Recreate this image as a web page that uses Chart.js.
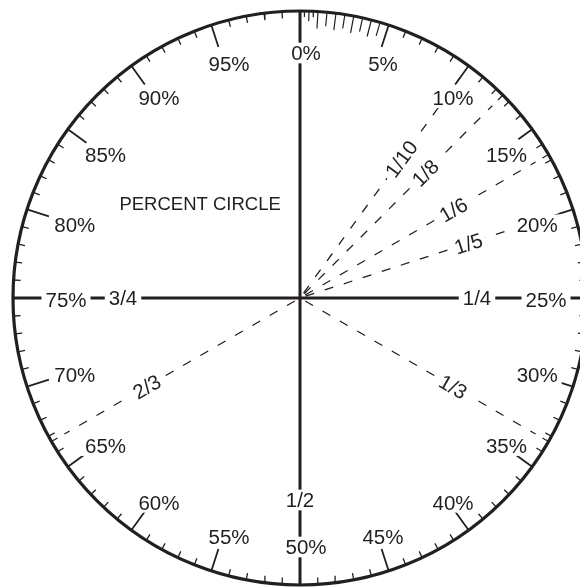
<!DOCTYPE html>
<html>
<head>
<meta charset="utf-8">
<script src="https://cdn.jsdelivr.net/npm/chart.js@4.4.1/dist/chart.umd.min.js"></script>
<style>
  html, body { margin: 0; padding: 0; background: #fff; }
  #wrap { position: relative; width: 580px; height: 587px; }
</style>
</head>
<body>
<div id="wrap"><canvas id="percentCircle"></canvas></div>
<script>
/* --- Data --- */
const title = 'PERCENT CIRCLE';
const percentTicks = [0, 5, 10, 15, 20, 25, 30, 35, 40, 45, 50, 55, 60, 65, 70, 75, 80, 85, 90, 95];
const percentLabels = ['0%', '5%', '10%', '15%', '20%', '25%', '30%', '35%', '40%', '45%',
                       '50%', '55%', '60%', '65%', '70%', '75%', '80%', '85%', '90%', '95%'];
const fractionLabels = ['1/10', '1/8', '1/6', '1/5', '1/4', '1/3', '1/2', '2/3', '3/4'];
const fractionPercents = [10, 12.5, 100 / 6, 20, 25, 100 / 3, 50, 200 / 3, 75];
const dashedFractions = ['1/10', '1/8', '1/6', '1/5', '1/3', '2/3'];
const fineTicks = [0.25, 0.5, 0.75, 1, 1.5, 2, 2.5, 3, 3.5, 4, 4.5];
const minorTickStep = 1;

/* --- Geometry / style --- */
const INK = '#231f20';
const FONT = '"Liberation Sans", Arial, Helvetica, sans-serif';
const W = 580, H = 587;
const CX = 300, CY = 298, R = 287;      // centre and radius of the circle (px)
const MAJOR_LEN = 23;
const majorLenOverride = { 15: 17, 20: 15 };
const MINOR_LEN = 7;
const GAP = { x: null, y: null };

function fineLen(p) {
    if (p < 1) return p === 0.5 ? 10 : 6;
    return Number.isInteger(p) ? 17 : 14;
}

// percent of the full turn -> point in circle units (radius = 1)
function polar(pct, rPx) {
    const a = pct / 100 * 2 * Math.PI;
    return { x: Math.sin(a) * rPx / R, y: Math.cos(a) * rPx / R };
}

function tickSegments(list, lenFor) {
    const pts = [];
    list.forEach(p => pts.push(polar(p, R), polar(p, R - lenFor(p)), GAP));
    return pts;
}

const axisPercents = [0, 25, 50, 75];
const majorOnly = percentTicks.filter(p => !axisPercents.includes(p));
const minorTicks = [];
for (let p = 5; p < 100; p += minorTickStep) if (p % 5 !== 0) minorTicks.push(p);
fractionPercents.forEach(p => { if (!Number.isInteger(p)) minorTicks.push(p); });

function lineDs(label, data, width, extra) {
    return Object.assign({
        label, data,
        borderColor: INK, borderWidth: width,
        pointRadius: 0, pointHoverRadius: 0, tension: 0,
        spanGaps: false, fill: false, borderCapStyle: 'butt'
    }, extra || {});
}

const datasets = [
    lineDs('axes', [polar(0, R), polar(50, R), GAP, polar(25, R), polar(75, R)], 3),
    lineDs('major', tickSegments(majorOnly, p => majorLenOverride[p] || MAJOR_LEN), 1.8),
    lineDs('minor', tickSegments(minorTicks, () => MINOR_LEN), 1.3),
    lineDs('fine', tickSegments(fineTicks, fineLen), 1.2),
    ...dashedFractions.map(f => {
        const p = fractionPercents[fractionLabels.indexOf(f)];
        return lineDs(f, [polar(p, 6), polar(p, 272)], 1.3, { borderDash: [9, 11] });
    })
];

/* --- Texts (labels with a white knock-out behind them) --- */
function drawLabel(ctx, text, x, y, rot, size) {
    ctx.save();
    ctx.font = `${size}px ${FONT}`;
    const w = ctx.measureText(text).width;
    const h = size * 0.716;
    ctx.translate(x, y);
    ctx.rotate(rot);
    ctx.fillStyle = '#fff';
    ctx.fillRect(-w / 2 - 4, -h / 2 - 3, w + 8, h + 6);
    ctx.fillStyle = INK;
    ctx.textAlign = 'center';
    ctx.textBaseline = 'alphabetic';
    ctx.fillText(text, 0, h / 2);
    ctx.restore();
}

// labels sit on a slightly squared ellipse inside the major ticks
function labelRadius(a) {
    const s = Math.abs(Math.sin(a)) / 240, c = Math.abs(Math.cos(a)) / 247;
    return Math.pow(Math.pow(s, 2.15) + Math.pow(c, 2.15), -1 / 2.15);
}
const fracRadius = { '1/10': 172, '1/2': 202 };

const textPlugin = {
    id: 'percentCircleText',
    afterDatasetsDraw(chart) {
        const { ctx, scales: { x, y } } = chart;
        const cx = x.getPixelForValue(0), cy = y.getPixelForValue(0);
        const rPx = x.getPixelForValue(1) - cx;

        ctx.save();
        ctx.beginPath();
        ctx.arc(cx, cy, rPx, 0, Math.PI * 2);
        ctx.lineWidth = 3.2;
        ctx.strokeStyle = INK;
        ctx.stroke();
        ctx.restore();

        percentTicks.forEach((p, i) => {
            const a = p / 100 * 2 * Math.PI;
            const r = labelRadius(a);
            drawLabel(ctx, percentLabels[i], cx + 6 + r * Math.sin(a), cy + 2 - r * Math.cos(a), 0, 20.5);
        });

        fractionLabels.forEach((f, i) => {
            const a = fractionPercents[i] / 100 * 2 * Math.PI;
            const r = (fracRadius[f] || 177) * rPx / R;
            let rot = 0;
            if (dashedFractions.includes(f)) {
                rot = a - Math.PI / 2;
                if (rot > Math.PI / 2) rot -= Math.PI;
            }
            drawLabel(ctx, f, cx + r * Math.sin(a), cy - r * Math.cos(a), rot, 20.5);
        });

        ctx.save();
        ctx.font = `18.5px ${FONT}`;
        ctx.fillStyle = INK;
        ctx.textAlign = 'center';
        ctx.textBaseline = 'alphabetic';
        ctx.fillText(title, x.getPixelForValue(-0.348), y.getPixelForValue(0.331) + 18.5 * 0.358);
        ctx.restore();
    }
};

new Chart(document.getElementById('percentCircle').getContext('2d'), {
    type: 'line',
    data: { datasets },
    options: {
        animation: false,
        responsive: true,
        maintainAspectRatio: false,
        events: [],
        layout: { padding: 0 },
        plugins: { legend: { display: false }, tooltip: { enabled: false } },
        scales: {
            x: { type: 'linear', display: false, min: -CX / R, max: (W - CX) / R },
            y: { type: 'linear', display: false, min: -(H - CY) / R, max: CY / R }
        }
    },
    plugins: [textPlugin]
});
</script>
</body>
</html>
